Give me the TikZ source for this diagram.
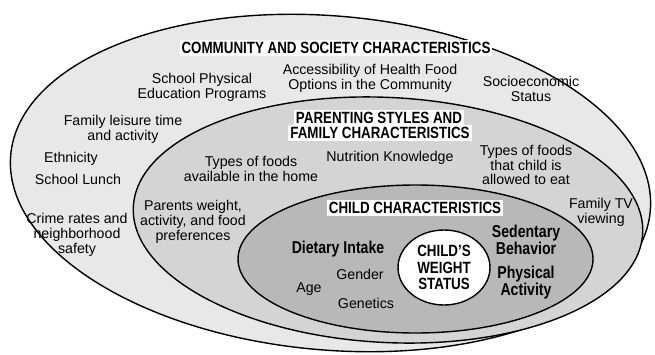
\documentclass[tikz,border=0pt]{standalone}
\usepackage{fontspec}
\setmainfont{Liberation Sans}
\newfontfamily\condfont[FakeStretch=0.82]{Liberation Sans}
\usetikzlibrary{shapes.geometric}
\definecolor{societygray}{gray}{0.91}
\definecolor{familygray}{gray}{0.83}
\definecolor{childgray}{gray}{0.72}

\begin{document}
\begin{tikzpicture}[x=1pt,y=-1pt]
    \tikzstyle{ring} = [draw,ellipse,line width=1.4pt,inner sep=0pt]
    \tikzstyle{factor} = [align=center,inner sep=0pt,font=\fontsize{14.2}{14.8}\selectfont]
    \tikzstyle{keyfactor} = [align=center,inner sep=0pt,font=\condfont\bfseries\fontsize{17.2}{16}\selectfont]
    \tikzstyle{title} = [fill=white,inner xsep=2pt,inner ysep=2pt,text height=11.7pt,text depth=0pt,font=\condfont\bfseries\fontsize{16.3}{15}\selectfont]
    \useasboundingbox (0,0) rectangle (655,354);
    \node [ring,fill=societygray,rotate=-5,minimum width=642pt,minimum height=334pt] (society) at (330.5,183) {};
    \node [ring,fill=familygray,rotate=-3,minimum width=510pt,minimum height=245pt] (family) at (388,220) {};
    \node [ring,fill=childgray,minimum width=355pt,minimum height=148pt] (child) at (415.5,259) {};
    \node [ring,fill=white,align=center,minimum width=92pt,minimum height=75pt,font=\condfont\bfseries\fontsize{16.3}{16.5}\selectfont] (weight) at (444,267.5) {CHILD’S\\WEIGHT\\STATUS};

    \node [title] (societytitle) at (336,48) {COMMUNITY AND SOCIETY CHARACTERISTICS};
    \node [factor] (schoolpe) at (202,87) {School Physical\\Education Programs};
    \node [factor] (access) at (370,78) {Accessibility of Health Food\\Options in the Community};
    \node [factor] (ses) at (531,89) {Socioeconomic\\Status};
    \node [factor] (leisure) at (123,129) {Family leisure time\\and activity};
    \node [factor] (ethnicity) at (71,159) {Ethnicity};
    \node [factor] (lunch) at (78,179) {School Lunch};
    \node [factor] (crime) at (77,235) {Crime rates and\\neighborhood\\safety};

    \node [title] (familytitle) at (379,118) {PARENTING STYLES AND};
    \node [title] (familytitle2) at (380,133) {FAMILY CHARACTERISTICS};
    \node [factor] (home) at (251,169) {Types of foods\\available in the home};
    \node [factor] (nutrition) at (390,158) {Nutrition Knowledge};
    \node [factor] (allowed) at (526,165) {Types of foods\\that child is\\allowed to eat};
    \node [factor] (parents) at (193,222) {Parents weight,\\activity, and food\\preferences};
    \node [factor] (tv) at (601,212) {Family TV\\viewing};

    \node [title] (childtitle) at (415,208) {CHILD CHARACTERISTICS};
    \node [keyfactor] (diet) at (338,249) {Dietary Intake};
    \node [keyfactor] (sedentary) at (526,240) {Sedentary\\Behavior};
    \node [keyfactor] (physical) at (526,283) {Physical\\Activity};
    \node [factor] (gender) at (360,274) {Gender};
    \node [factor] (age) at (309,289) {Age};
    \node [factor] (genetics) at (366,303) {Genetics};
\end{tikzpicture}
\end{document}
